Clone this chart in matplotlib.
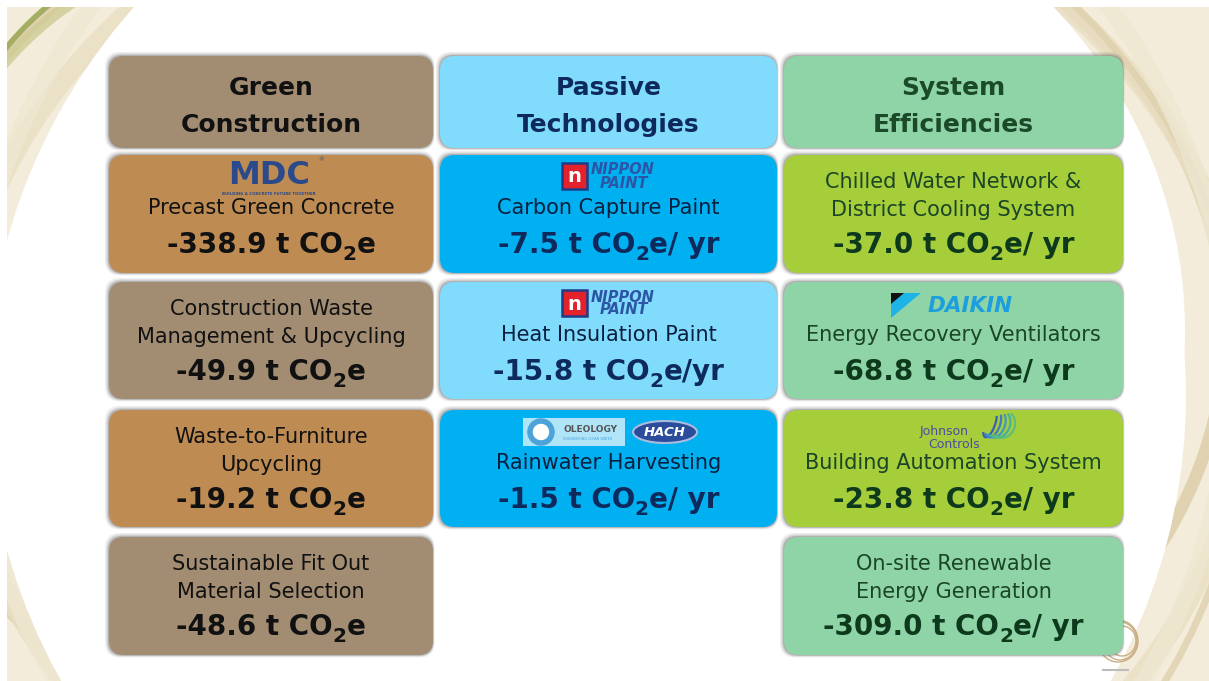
import matplotlib
matplotlib.use("Agg")
import matplotlib.pyplot as plt
from matplotlib.patches import FancyBboxPatch, Rectangle, Ellipse, Polygon, Arc, Circle

plt.rcParams['font.family'] = ['DejaVu Sans']

# ---- data -------------------------------------------------------------
headers = [['Green', 'Construction'], ['Passive', 'Technologies'], ['System', 'Efficiencies']]

green_labels = ['Precast Green Concrete',
                'Construction Waste\nManagement & Upcycling',
                'Waste-to-Furniture\nUpcycling',
                'Sustainable Fit Out\nMaterial Selection']
green_values = [-338.9, -49.9, -19.2, -48.6]
green_units = ['', '', '', '']

passive_labels = ['Carbon Capture Paint', 'Heat Insulation Paint', 'Rainwater Harvesting']
passive_values = [-7.5, -15.8, -1.5]
passive_units = ['/ yr', '/yr', '/ yr']

system_labels = ['Chilled Water Network &\nDistrict Cooling System',
                 'Energy Recovery Ventilators',
                 'Building Automation System',
                 'On-site Renewable\nEnergy Generation']
system_values = [-37.0, -68.8, -23.8, -309.0]
system_units = ['/ yr', '/ yr', '/ yr', '/ yr']

# ---- layout / style -------------------------------------------------------
col_left = [109, 440, 784]
col_width = [324, 337, 339]
row_top = [56, 155, 282, 410, 537]
row_height = [92, 118, 117, 117, 118]

header_fc = ['#A28D73', '#80DBFC', '#8FD4A6']
header_tc = ['#111111', '#0E2A5C', '#1B4A2A']
cell_fc = [['#BE8B53', '#A28D73', '#BE8B53', '#A28D73'],
           ['#00B0F0', '#80DBFC', '#00B0F0'],
           ['#A6CD3A', '#8FD4A6', '#A6CD3A', '#8FD4A6']]
label_tc = ['#111111', '#0B1F3F', '#1A4527']
value_tc = ['#111111', '#0E2A5C', '#0D3A1C']

fig = plt.figure(figsize=(12.09, 6.81), dpi=100)
ax = fig.add_axes([0, 0, 1, 1])
ax.set_xlim(0, 1209)
ax.set_ylim(681, 0)
ax.axis('off')
renderer = fig.canvas.get_renderer()

# ---- slide background with swirl ---------------------------------------
slide = Rectangle((7, 7), 1202, 674, facecolor='#F3ECDA', edgecolor='none', zorder=0)
ax.add_patch(slide)
swirls = [((560, 330), 1330, 1000, '#DCCCA6', 9),
          ((600, 380), 1290, 1080, '#EADFC3', 14),
          ((300, 200), 700, 560, '#95A44E', 4),
          ((320, 230), 760, 600, '#CFCB94', 8),
          ((620, 400), 1250, 1150, '#DFD1AE', 5),
          ((600, 370), 1260, 1230, '#EFE7D2', 12)]
for (cx, cy), w, h, c, lw in swirls:
    e = Ellipse((cx, cy), w, h, facecolor='none', edgecolor=c, lw=lw, zorder=1, alpha=0.8)
    ax.add_patch(e)
    e.set_clip_path(slide)
oval = Ellipse((586, 395), 1200, 1180, facecolor='white', edgecolor='none', zorder=2)
ax.add_patch(oval)
oval.set_clip_path(slide)
oval2 = Ellipse((630, 330), 1110, 1000, facecolor='white', edgecolor='none', zorder=2)
ax.add_patch(oval2)
oval2.set_clip_path(slide)

# small ring decoration bottom right
for i, (w, h) in enumerate([(40, 42), (34, 38), (28, 30)]):
    ax.add_patch(Ellipse((1118 + i * 2, 641), w, h, facecolor='none',
                         edgecolor='#C9AE84', lw=1, zorder=3))
ax.plot([1103, 1128], [670, 670], color='#BBBBBB', lw=1.5, zorder=3)


def box(x, y, w, h, fc):
    for d, a in [(4, 0.10), (2.5, 0.18), (1.2, 0.30)]:
        ax.add_patch(FancyBboxPatch((x - d, y - d), w + d * 1.4, h + d * 1.6,
                                    boxstyle='round,pad=0,rounding_size=15',
                                    facecolor='#606060', edgecolor='none', alpha=a, zorder=4))
    ax.add_patch(FancyBboxPatch((x, y), w, h, boxstyle='round,pad=0,rounding_size=15',
                                facecolor=fc, edgecolor='none', zorder=5))


def value_text(cx, base, v, unit, color, fs=20):
    # "-338.9 t CO" + subscript "2" + "e/ yr", centred on cx
    parts = [(f'{v:.1f} t CO', fs, 0), ('2', fs * 0.72, 7), ('e' + unit, fs, 0)]
    texts = []
    widths = []
    for s, size, drop in parts:
        t = ax.text(0, base + drop, s, ha='left', va='baseline', fontsize=size,
                    fontweight='bold', color=color, zorder=6)
        texts.append(t)
        widths.append(t.get_window_extent(renderer).width)
    x = cx - sum(widths) / 2
    for t, w in zip(texts, widths):
        t.set_x(x)
        x += w


# ---- headers ----------------------------------------------------------
for c in range(3):
    box(col_left[c], row_top[0], col_width[c], row_height[0], header_fc[c])
    cx = col_left[c] + col_width[c] / 2
    ax.text(cx, 95, headers[c][0], ha='center', va='baseline', fontsize=18,
            fontweight='bold', color=header_tc[c], zorder=6)
    ax.text(cx, 132, headers[c][1], ha='center', va='baseline', fontsize=18,
            fontweight='bold', color=header_tc[c], zorder=6)

# ---- cells ------------------------------------------------------------
columns = [(green_labels, green_values, green_units),
           (passive_labels, passive_values, passive_units),
           (system_labels, system_values, system_units)]

for c, (labels, values, units) in enumerate(columns):
    cx = col_left[c] + col_width[c] / 2
    for r in range(len(labels)):
        top = row_top[r + 1]
        box(col_left[c], top, col_width[c], row_height[r + 1], cell_fc[c][r])
        lines = labels[r].split('\n')
        if len(lines) == 2:
            ax.text(cx, top + 33, lines[0], ha='center', va='baseline', fontsize=15,
                    color=label_tc[c], zorder=6)
            ax.text(cx, top + 61, lines[1], ha='center', va='baseline', fontsize=15,
                    color=label_tc[c], zorder=6)
        else:
            ax.text(cx, top + 59, lines[0], ha='center', va='baseline', fontsize=15,
                    color=label_tc[c], zorder=6)
        value_text(cx, top + 98, values[r], units[r], value_tc[c])

# ---- logos --------------------------------------------------------------
# MDC
ax.text(269, 184, 'MDC', ha='center', va='baseline', fontsize=23, fontweight='heavy',
        color='#2B4A8B', zorder=6)
ax.text(269, 194, 'BUILDING A CONCRETE FUTURE TOGETHER', ha='center', va='center',
        fontsize=2.8, fontweight='bold', color='#2B4A8B', zorder=6)
ax.text(321, 160, '®', ha='center', va='center', fontsize=4, color='#2B4A8B', zorder=6)

# Nippon Paint (two cells)
for ny in [163, 290]:
    ax.add_patch(Rectangle((562, ny), 25, 26, facecolor='#E3222B', edgecolor='#1F3C88',
                           lw=1.8, zorder=6))
    ax.text(574.5, ny + 14, 'n', ha='center', va='center', fontsize=14, fontweight='bold',
            color='white', zorder=7)
    ax.text(591, ny + 7, 'NIPPON', ha='left', va='center', fontsize=10.5, fontweight='bold',
            style='italic', color='#2C55A6', zorder=6)
    ax.text(600, ny + 20, 'PAINT', ha='left', va='center', fontsize=10.5, fontweight='bold',
            style='italic', color='#2C55A6', zorder=6)

# Oleology + HACH
ax.add_patch(Rectangle((523, 418), 102, 28, facecolor='#DDF3FC', edgecolor='none',
                       alpha=0.8, zorder=6))
ax.add_patch(Circle((541, 432), 11, facecolor='white', edgecolor='#4BA3DA', lw=4, zorder=7))
ax.text(563, 430, 'OLEOLOGY', ha='left', va='center', fontsize=6.5, fontweight='bold',
        color='#555555', zorder=7)
ax.text(563, 439, 'ENGINEERING CLEAN WATER', ha='left', va='center', fontsize=2.4,
        color='#4BA3DA', zorder=7)
ax.add_patch(Ellipse((665, 432), 64, 22, facecolor='#2B4C9B', edgecolor='#A9BCE0', lw=1.5,
                     zorder=6))
ax.text(665, 432, 'HACH', ha='center', va='center', fontsize=9.5, fontweight='bold',
        style='italic', color='white', zorder=7)

# Daikin
ax.add_patch(Polygon([(891, 293), (921, 293), (891, 318)], closed=True, facecolor='#1EB4E8',
                     edgecolor='none', zorder=6))
ax.add_patch(Polygon([(891, 293), (904, 293), (891, 304)], closed=True, facecolor='#111111',
                     edgecolor='none', zorder=7))
ax.text(970, 306, 'DAIKIN', ha='center', va='center', fontsize=15.5, fontweight='bold',
        style='italic', color='#1C9FDC', zorder=6)

# Johnson Controls
ax.text(944, 431, 'Johnson', ha='center', va='center', fontsize=9, color='#4A4E9E', zorder=6)
ax.text(954, 444, 'Controls', ha='center', va='center', fontsize=9, color='#4A4E9E', zorder=6)
for i, col in enumerate(['#3A5FB0', '#3F7CC0', '#3E9AC0', '#44B0A0', '#5DBE7A']):
    ax.add_patch(Arc((990 + i * 3, 424), 10 + i * 4, 28, angle=20, theta1=-70, theta2=110,
                     color=col, lw=1.6, zorder=6))

fig.savefig('out.png', dpi=100)
